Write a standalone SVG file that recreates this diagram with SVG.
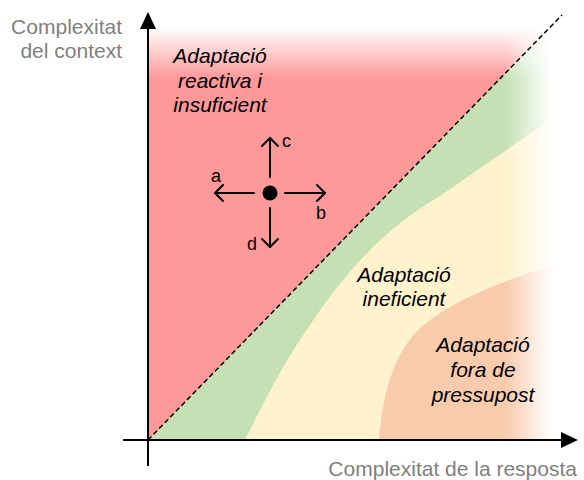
<svg xmlns="http://www.w3.org/2000/svg" width="584" height="480" viewBox="0 0 584 480">
<style>
.axlbl{font-family:"Liberation Sans",Arial,sans-serif;font-size:21px;fill:#7f7f7f}
.zone{font-family:"Liberation Sans",Arial,sans-serif;font-size:21px;font-style:italic;fill:#000;text-anchor:middle}
.dir{font-family:"Liberation Sans",Arial,sans-serif;font-size:18px;fill:#000}
.axis{stroke:#000;stroke-width:2;fill:none}
.arr{stroke:#000;stroke-width:2;fill:none;stroke-linecap:round;stroke-linejoin:round}
</style>
<defs>
<linearGradient id="gR" gradientUnits="userSpaceOnUse" x1="505" y1="0" x2="552" y2="0">
<stop offset="0" stop-color="#fff"/><stop offset="1" stop-color="#000"/>
</linearGradient>
<linearGradient id="gT" gradientUnits="userSpaceOnUse" x1="0" y1="27" x2="0" y2="78">
<stop offset="0" stop-color="#000"/><stop offset="1" stop-color="#fff"/>
</linearGradient>
<mask id="mR" maskUnits="userSpaceOnUse" x="0" y="0" width="584" height="480"><rect width="584" height="480" fill="url(#gR)"/></mask>
<mask id="mT" maskUnits="userSpaceOnUse" x="0" y="0" width="584" height="480"><rect width="584" height="480" fill="url(#gT)"/></mask>
</defs>
<g id="regions" mask="url(#mR)">
<g mask="url(#mT)">
<rect id="zone-red" x="148" y="20" width="436" height="420" fill="#ff9999"/>
<path id="zone-green" d="M148,440 L584,-7.6 L584,440 Z" fill="#c5e0b4"/>
<path id="zone-yellow" d="M245,440 C265,400 285,360 310,325 C350,265 390,225 440,196 L584,96 L584,440 Z" fill="#fff2cc"/>
<path id="zone-orange" d="M379,440 C383,390 395,345 430,320 C465,295 510,278 584,255 L584,440 Z" fill="#f8cbad"/>
</g>
</g>
<g id="connectors">
<line id="diagonal" x1="148" y1="440" x2="562" y2="15" stroke="#000" stroke-width="1.5" stroke-dasharray="5 3"/>
<line class="axis" x1="148" y1="466" x2="148" y2="27"/>
<polygon points="148,12 140,29 156,29" fill="#000"/>
<line class="axis" x1="123" y1="440" x2="563" y2="440"/>
<polygon points="578,440 561,432 561,448" fill="#000"/>
<g id="arrow-c"><line class="arr" x1="270" y1="177" x2="270" y2="138"/><polyline class="arr" points="262,146 270,138 278,146"/></g>
<g id="arrow-a"><line class="arr" x1="254" y1="193" x2="215" y2="193"/><polyline class="arr" points="223,185 215,193 223,201"/></g>
<g id="arrow-b"><line class="arr" x1="285" y1="193" x2="325" y2="193"/><polyline class="arr" points="317,185 325,193 317,201"/></g>
<g id="arrow-d"><line class="arr" x1="270" y1="208" x2="270" y2="247"/><polyline class="arr" points="262,239 270,247 278,239"/></g>
</g>
<g id="axis-y-label"><text class="axlbl" text-anchor="end" x="122" y="34">Complexitat</text><text class="axlbl" text-anchor="end" x="122" y="58">del context</text></g>
<g id="axis-x-label"><text class="axlbl" text-anchor="end" x="577" y="476">Complexitat de la resposta</text></g>
<g id="label-reactiva"><text class="zone" x="220" y="63">Adaptació</text><text class="zone" x="220" y="87.5">reactiva i</text><text class="zone" x="220" y="112">insuficient</text></g>
<g id="label-ineficient"><text class="zone" x="404" y="282">Adaptació</text><text class="zone" x="404" y="306">ineficient</text></g>
<g id="label-pressupost"><text class="zone" x="483" y="352">Adaptació</text><text class="zone" x="483" y="377">fora de</text><text class="zone" x="483" y="402">pressupost</text></g>
<g id="point"><circle cx="270" cy="193" r="7.5" fill="#000"/></g>
<g id="dir-labels"><text class="dir" x="282" y="147">c</text><text class="dir" x="211" y="182">a</text><text class="dir" x="316" y="219">b</text><text class="dir" x="247" y="250">d</text></g>
</svg>
